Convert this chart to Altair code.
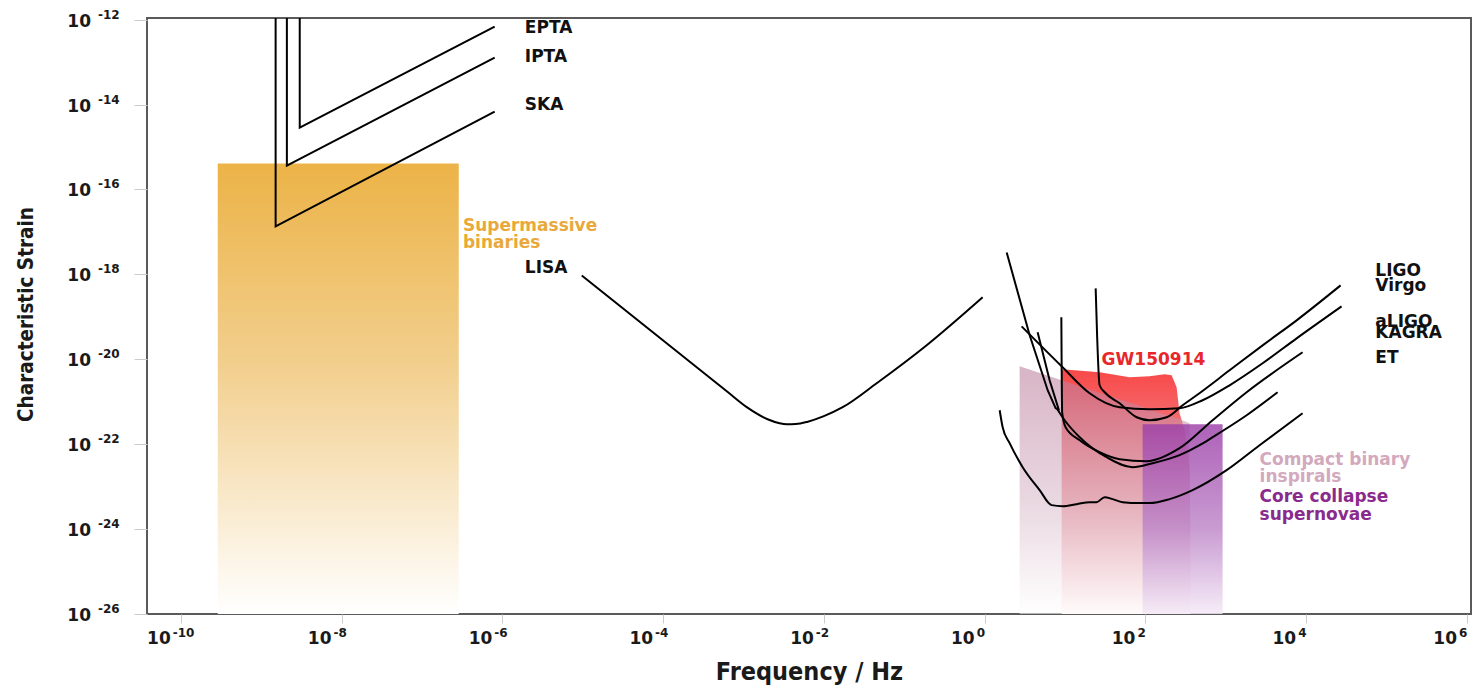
import altair as alt
import pandas as pd

# ---------------- data (log10 values) ----------------
x_tick_exp = [-10, -8, -6, -4, -2, 0, 2, 4, 6]
y_tick_exp = [-26, -24, -22, -20, -18, -16, -14, -12]

X_MIN, X_MAX = -10.42, 6.05
Y_MIN, Y_MAX = -26.0, -11.96

sharp_names = ["EPTA", "IPTA", "SKA", "Vshape"]
smooth_names = ["LISA", "ET", "Virgo", "LIGO", "KAGRA", "aLIGO"]
curve_logf = {
    "EPTA": [-8.52, -8.52, -6.095],
    "IPTA": [-8.68, -8.68, -6.095],
    "SKA": [-8.82, -8.82, -6.095],
    "LISA": [-5.012, -3.2, -2.95, -2.70, -2.55, -2.463, -2.35, -2.2, -2.0, -1.766, -1.343, -0.721, -0.025],
    "ET": [0.187, 0.224, 0.311, 0.473, 0.684, 0.833, 0.970, 1.144, 1.306, 1.393, 1.493, 1.592,
           1.716, 1.928, 2.052, 2.301, 2.587, 3.010, 3.420, 3.955],
    "Virgo": [0.460, 0.958, 1.306, 1.679, 2.052, 2.425, 2.711, 3.047, 3.458, 3.881, 4.440],
    "LIGO": [1.381, 1.400, 1.430, 1.493, 1.679, 1.891, 2.052, 2.264, 2.463, 2.637, 3.047, 3.458, 3.881, 4.428],
    "Vshape": [0.274, 0.560, 0.784, 0.883, 0.920, 0.808, 0.659],
    "KAGRA": [0.896, 0.995, 1.182, 1.517, 1.841, 2.089, 2.425, 2.674, 2.836, 3.259, 3.644],
    "aLIGO": [0.954, 0.958, 0.964, 1.007, 1.182, 1.430, 1.679, 2.015, 2.425, 2.836, 3.259, 3.955],
}
curve_logh = {
    "EPTA": [-11.96, -14.54, -12.165],
    "IPTA": [-11.96, -15.435, -12.894],
    "SKA": [-11.96, -16.87, -14.165],
    "LISA": [-18.024, -20.765, -21.139, -21.412, -21.506, -21.529, -21.525, -21.47, -21.34, -21.129,
             -20.565, -19.671, -18.541],
    "ET": [-21.2, -21.6, -21.976, -22.541, -23.082, -23.435, -23.459, -23.412, -23.365, -23.365, -23.247,
           -23.294, -23.365, -23.388, -23.388, -23.294, -23.082, -22.612, -22.024, -21.271],
    "Virgo": [-19.224, -20.165, -20.8, -21.129, -21.176, -21.153, -20.965, -20.612, -20.094, -19.506, -18.753],
    "LIGO": [-18.329, -19.5, -20.612, -20.776, -21.035, -21.365, -21.435, -21.365, -21.082, -20.847, -20.259,
             -19.671, -19.082, -18.259],
    "Vshape": [-17.482, -19.435, -20.729, -21.153, -21.176, -20.494, -19.365],
    "KAGRA": [-21.153, -21.435, -21.835, -22.306, -22.541, -22.447, -22.259, -22.024, -21.835, -21.318, -20.776],
    "aLIGO": [-19.012, -20.2, -21.25, -21.6, -21.906, -22.188, -22.353, -22.4, -22.094, -21.435, -20.776, -19.835],
}

# source regions
smbh_logf = [-9.54, -6.542]
smbh_top = -15.388

cbc_logf = [0.435, 0.958, 2.425, 2.550]
cbc_logh = [-20.165, -20.494, -21.412, -21.506]

gw_logf = [0.958, 1.430, 1.803, 2.052, 2.239, 2.326, 2.388, 2.425, 2.488, 2.550, 2.562]
gw_logh = [-20.235, -20.306, -20.424, -20.4, -20.353, -20.376, -20.659, -21.271, -21.671, -22.612, -24.73]

sn_logf = [1.965, 2.960]
sn_top = -21.529

label_text = ["EPTA", "IPTA", "SKA", "LISA", "Supermassive", "binaries", "LIGO", "Virgo", "aLIGO",
              "KAGRA", "ET", "GW150914", "Compact binary", "inspirals", "Core collapse", "supernovae"]
label_logf = [-5.72, -5.72, -5.72, -5.72, -6.49, -6.49, 4.86, 4.86, 4.86, 4.86, 4.86, 1.455,
              3.42, 3.42, 3.42, 3.42]
label_logh = [-12.19, -12.89, -14.0, -17.86, -16.87, -17.27, -17.93, -18.28, -19.11, -19.39, -19.98,
              -20.02, -22.38, -22.78, -23.25, -23.67]
label_color = ["#111111"] * 4 + ["#E9A93A"] * 2 + ["#111111"] * 5 + ["#E8272A"] + ["#D3A9BD"] * 2 + ["#8A2A8C"] * 2

# ---------------- styles ----------------
FONT = "DejaVu Sans"
TITLE_FONT = "DejaVu Sans Condensed, Liberation Sans, sans-serif"
W, H = 1324, 596

xscale = alt.Scale(type="log", domain=[10 ** X_MIN, 10 ** X_MAX], nice=False)
yscale = alt.Scale(type="log", domain=[10 ** Y_MIN, 10 ** Y_MAX], nice=False)

x_axis = alt.Axis(values=[10.0 ** e for e in x_tick_exp], labels=False, grid=False, domain=False,
                  ticks=True, tickColor="#cccccc", tickSize=9, tickWidth=1,
                  title="Frequency / Hz", titleFont=TITLE_FONT, titleFontSize=25, titleFontWeight="bold",
                  titleColor="#1a1a1a", titleX=W / 2, titleY=65, titleAlign="center",
                  titleBaseline="alphabetic")
y_axis = alt.Axis(values=[10.0 ** e for e in y_tick_exp], labels=False, grid=False, domain=False,
                  ticks=True, tickColor="#cccccc", tickSize=13, tickWidth=1,
                  title="Characteristic Strain", titleFont=TITLE_FONT, titleFontSize=20.5,
                  titleFontWeight="bold", titleColor="#1a1a1a", titleX=-115, titleY=H / 2 - 2,
                  titleAngle=270, titleAlign="center", titleBaseline="alphabetic")


def X(field, **kw):
    return alt.X(field, type="quantitative", scale=xscale, axis=x_axis, **kw)


def Y(field, **kw):
    return alt.Y(field, type="quantitative", scale=yscale, axis=y_axis, **kw)


def grad(stops):
    return alt.LinearGradient(gradient="linear",
                              stops=[alt.GradientStop(color=c, offset=o) for o, c in stops],
                              x1=0, x2=0, y1=0, y2=1)


def curve_table(names):
    rows = []
    for n in names:
        for i, (lf, lh) in enumerate(zip(curve_logf[n], curve_logh[n])):
            rows.append({"name": n, "i": i, "f": 10 ** lf, "h": 10 ** lh})
    return pd.DataFrame(rows)


# ---------------- tables ----------------
sharp_df = curve_table(sharp_names)
smooth_df = curve_table(smooth_names)

smbh_df = pd.DataFrame({"f": [10 ** smbh_logf[0]], "f2": [10 ** smbh_logf[1]],
                        "h": [10 ** smbh_top], "h2": [10 ** Y_MIN]})
sn_df = pd.DataFrame({"f": [10 ** sn_logf[0]], "f2": [10 ** sn_logf[1]],
                      "h": [10 ** sn_top], "h2": [10 ** Y_MIN]})
cbc_df = pd.DataFrame({"f": [10 ** v for v in cbc_logf], "h": [10 ** v for v in cbc_logh],
                       "h2": [10 ** Y_MIN] * len(cbc_logf)})
gw_df = pd.DataFrame({"f": [10 ** v for v in gw_logf], "h": [10 ** v for v in gw_logh],
                      "h2": [10 ** Y_MIN] * len(gw_logf)})
labels_df = pd.DataFrame({"t": label_text, "f": [10 ** v for v in label_logf],
                          "h": [10 ** v for v in label_logh], "c": label_color})
xt_df = pd.DataFrame({"f": [10.0 ** e for e in x_tick_exp], "base": "10",
                      "exp": [str(e) for e in x_tick_exp]})
yt_df = pd.DataFrame({"h": [10.0 ** e for e in y_tick_exp], "base": "10",
                      "exp": [str(e) for e in y_tick_exp]})

# ---------------- layers ----------------
smbh = alt.Chart(smbh_df).mark_rect(
    color=grad([(0, "#ECB347"), (0.45, "#F2CF8E"), (1, "#FFFFFF")])
).encode(x=X("f"), x2="f2", y=Y("h"), y2="h2")

gw = alt.Chart(gw_df).mark_area(
    color=grad([(0, "#F84848"), (0.5, "#F39AA0"), (1, "#FFF6F6")]), interpolate="linear"
).encode(x=X("f"), y=Y("h"), y2="h2")

cbc = alt.Chart(cbc_df).mark_area(
    color=grad([(0, "#B87797"), (0.55, "#D8B8C8"), (1, "#FFFFFF")]), opacity=0.55, interpolate="linear"
).encode(x=X("f"), y=Y("h"), y2="h2")

sn = alt.Chart(sn_df).mark_rect(
    color=grad([(0, "#9C3FA8"), (0.55, "#BD85C8"), (1, "#F4E8F6")]), opacity=0.82
).encode(x=X("f"), x2="f2", y=Y("h"), y2="h2")

sharp_lines = alt.Chart(sharp_df).mark_line(color="#000000", strokeWidth=2, clip=True,
                                            strokeJoin="miter").encode(
    x=X("f"), y=Y("h"), detail="name:N", order="i:Q")

smooth_lines = alt.Chart(smooth_df).mark_line(color="#000000", strokeWidth=2, clip=True,
                                              interpolate="monotone").encode(
    x=X("f"), y=Y("h"), detail="name:N", order="i:Q")

texts = alt.Chart(labels_df).mark_text(font=FONT, fontSize=17, fontWeight="bold", align="left",
                                       baseline="middle").encode(
    x=X("f"), y=Y("h"), text="t:N", color=alt.Color("c:N", scale=None))

xt_base = alt.Chart(xt_df).mark_text(font=FONT, fontSize=17, fontWeight="bold", align="right",
                                     baseline="alphabetic", dx=-10, color="#1a1a1a").encode(
    x=X("f"), y=alt.value(H + 30), text="base:N")
xt_exp = alt.Chart(xt_df).mark_text(font=FONT, fontSize=12, fontWeight="bold", align="left",
                                    baseline="alphabetic", dx=-8, color="#1a1a1a").encode(
    x=X("f"), y=alt.value(H + 23), text="exp:N")
yt_base = alt.Chart(yt_df).mark_text(font=FONT, fontSize=17, fontWeight="bold", align="right",
                                     baseline="alphabetic", dy=7, color="#1a1a1a").encode(
    x=alt.value(-56), y=Y("h"), text="base:N")
yt_exp = alt.Chart(yt_df).mark_text(font=FONT, fontSize=12, fontWeight="bold", align="left",
                                    baseline="alphabetic", dy=-1, color="#1a1a1a").encode(
    x=alt.value(-49), y=Y("h"), text="exp:N")

chart = alt.layer(smbh, gw, cbc, sn, sharp_lines, smooth_lines, texts,
                  xt_base, xt_exp, yt_base, yt_exp).properties(
    width=W, height=H,
    autosize=alt.AutoSizeParams(type="none"),
    padding={"left": 147, "top": 18, "right": 7, "bottom": 71},
    background="#ffffff",
).configure_view(stroke="#5a5a5a", strokeWidth=2)

chart.save("out.html", embed_options={"renderer": "svg", "actions": False})
